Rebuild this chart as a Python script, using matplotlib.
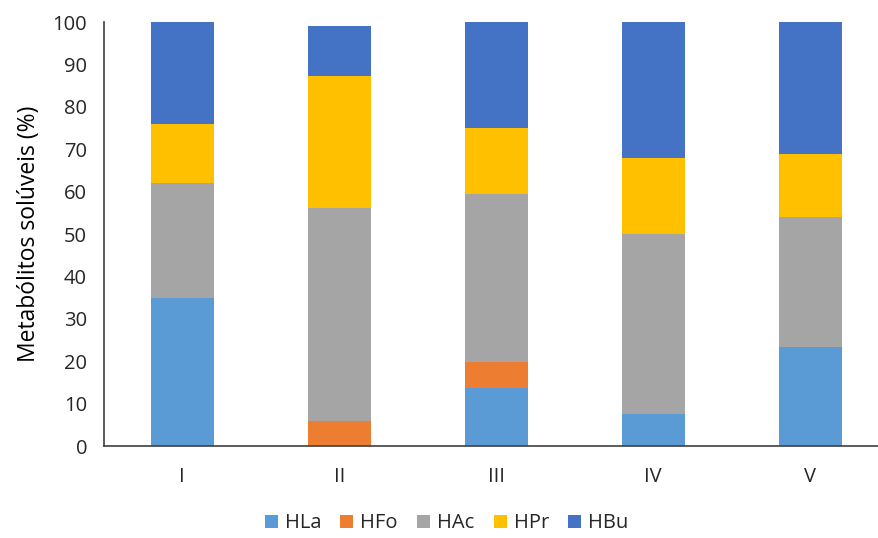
import numpy as np
import matplotlib
matplotlib.use("Agg")
import matplotlib.pyplot as plt

plt.rcParams['font.family'] = ['Open Sans', 'DejaVu Sans']

categories = ['I', 'II', 'III', 'IV', 'V']
series = ['HLa', 'HFo', 'HAc', 'HPr', 'HBu']
hla = [35.0, 0.0, 13.7, 7.6, 23.3]
hfo = [0.0, 5.9, 6.0, 0.0, 0.0]
hac = [27.0, 50.2, 39.7, 42.4, 30.6]
hpr = [14.0, 31.1, 15.5, 17.9, 14.9]
hbu = [24.0, 11.8, 25.3, 32.3, 31.1]
colors = ['#5B9BD5', '#ED7D31', '#A5A5A5', '#FFC000', '#4472C4']

fig = plt.figure(figsize=(8.79, 5.38), dpi=100)
ax = fig.add_axes([0.118, 0.171, 1.011 - 0.118, 0.788])

x = np.arange(len(categories))
bottom = np.zeros(len(categories))
for name, vals, c in zip(series, [hla, hfo, hac, hpr, hbu], colors):
    vals = np.array(vals)
    ax.bar(x, vals, 0.4, bottom=bottom, color=c, label=name, zorder=2)
    bottom += vals

ax.set_xlim(-0.5, 4.5)
ax.set_ylim(0, 100)
ax.set_yticks(np.arange(0, 101, 10))
ax.set_xticks(x)
ax.set_xticklabels(categories)
ax.tick_params(axis='both', length=0, labelsize=14.5, colors='#262626')
ax.tick_params(axis='x', pad=15)
ax.tick_params(axis='y', pad=12)

for s in ['top', 'right']:
    ax.spines[s].set_visible(False)
for s in ['left', 'bottom']:
    ax.spines[s].set_color('#404040')
    ax.spines[s].set_linewidth(1.2)

ax.set_ylabel('Metabólitos solúveis (%)', fontsize=16.5, color='#000000', labelpad=8)

handles, labels = ax.get_legend_handles_labels()
fig.legend(handles, labels, loc='center', bbox_to_anchor=(0.508, 0.027), ncol=5,
           frameon=False, fontsize=14.5, handlelength=0.65, handleheight=0.65,
           handletextpad=0.35, columnspacing=0.95, labelcolor='#262626',
           borderpad=0.1)

fig.savefig('out.png', dpi=100)
